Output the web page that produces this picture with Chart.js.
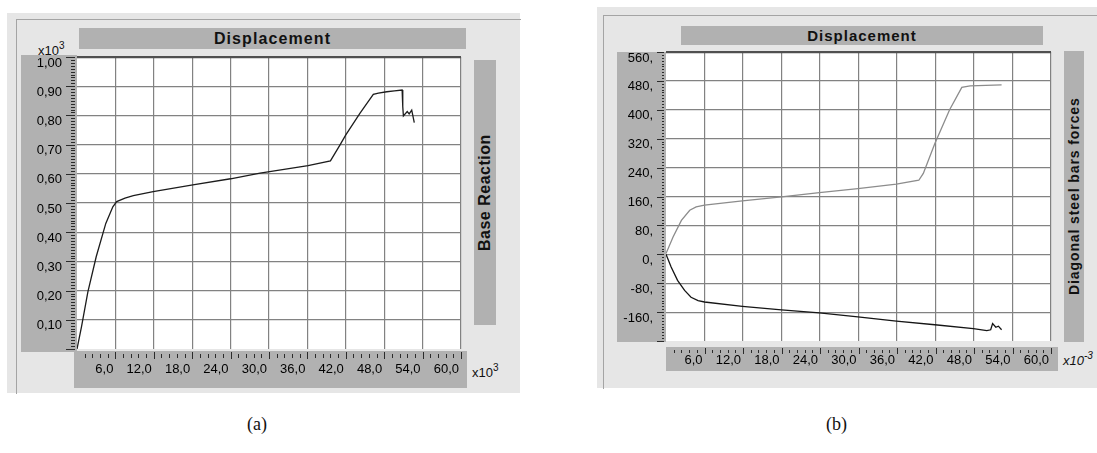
<!DOCTYPE html>
<html>
<head>
<meta charset="utf-8">
<script src="https://cdn.jsdelivr.net/npm/chart.js@4.4.1/dist/chart.umd.min.js"></script>
<style>
  body { margin: 0; background: #fff; }
  #page { position: relative; width: 1097px; height: 453px; overflow: hidden; font-family: "Liberation Sans", Arial, sans-serif; color: #111; }
  .abs { position: absolute; }
  .panel { background: #e6e6e6; }
  .frame { border-left: 1px solid #a4a4a4; border-top: 1px solid #a4a4a4; }
  .band { background: #b1b1b1; }
  .title { display: flex; align-items: center; justify-content: center; font-weight: bold; font-size: 16px; }
  .vtitle { display: flex; align-items: center; justify-content: center; font-weight: bold; font-size: 16px;
            writing-mode: vertical-rl; transform: rotate(180deg); }
  .mult { font-size: 13px; white-space: nowrap; }
  .mult sup { font-size: 10px; position: relative; top: -1px; }
  .cap { font-family: "Liberation Serif", "Times New Roman", serif; font-size: 18px; }
  .box { position: absolute; }
</style>
</head>
<body>
<div id="page">
  <!-- panel (a) -->
  <div class="abs panel" style="left:7px;top:13px;width:513px;height:380px"></div>
  <div class="abs frame" style="left:16px;top:19px;width:504px;height:374px"></div>
  <div class="abs band title" style="left:79px;top:28px;width:387px;height:21px;letter-spacing:1.1px">Displacement</div>
  <div class="abs band" style="left:21px;top:55px;width:56px;height:297px"></div>
  <div class="abs band" style="left:74px;top:351px;width:393px;height:37px"></div>
  <div class="abs band vtitle" style="left:474px;top:60px;width:22px;height:265px;letter-spacing:0.5px">Base Reaction</div>
  <div class="abs mult" style="left:38px;top:41px">x10<sup>3</sup></div>
  <div class="abs mult" style="left:472px;top:363px">x10<sup>3</sup></div>
  <div class="box" style="left:0;top:0;width:530px;height:400px"><canvas id="chartA"></canvas></div>

  <!-- panel (b) -->
  <div class="abs panel" style="left:597px;top:7px;width:500px;height:381px"></div>
  <div class="abs frame" style="left:603px;top:15px;width:494px;height:373px"></div>
  <div class="abs band title" style="left:681px;top:26px;width:362px;height:19px;font-size:15px;letter-spacing:1px">Displacement</div>
  <div class="abs band" style="left:617px;top:52px;width:49px;height:290px"></div>
  <div class="abs band" style="left:666px;top:347px;width:392px;height:24px"></div>
  <div class="abs band vtitle" style="left:1064px;top:51px;width:20px;height:291px;font-size:14px;letter-spacing:0.9px">Diagonal steel bars forces</div>
  <div class="abs mult" style="left:1063px;top:351px;font-style:italic">x10<sup>-3</sup></div>
  <div class="box" style="left:590px;top:0;width:507px;height:400px"><canvas id="chartB"></canvas></div>

  <div class="abs cap" style="left:247px;top:414px">(a)</div>
  <div class="abs cap" style="left:826px;top:414px">(b)</div>
</div>

<script>
// ---- data ----
// (a) displacement (x10^3) vs base reaction (x10^3)
const dispA  = [0, 0.7, 1.7, 3.0, 4.5, 5.6, 6.2, 7.5, 8.8, 11.9, 18.1, 24.0, 28.6, 36.1, 39.6, 41.1, 42.0, 44.2, 45.3, 46.3,
                47.1, 48.4, 49.6, 50.8, 50.9, 51.0, 51.6, 51.9, 52.3, 52.7];
const reactA = [0, 0.076, 0.196, 0.316, 0.43, 0.487, 0.505, 0.517, 0.525, 0.539, 0.562, 0.583, 0.602, 0.628, 0.644, 0.699, 0.733, 0.807, 0.841, 0.872,
                0.876, 0.881, 0.884, 0.887, 0.83, 0.798, 0.813, 0.805, 0.818, 0.775];

// (b) diagonal steel bar forces: upper (grey) and lower (black) bars
const dispB1  = [0, 1.1, 2.4, 3.7, 4.7, 6.0, 11.9, 18.0, 23.9, 29.9, 35.9, 39.4, 40.1, 41.9, 44.2, 46.1, 47.4, 52.3];
const forceB1 = [2, 48, 94, 122, 131, 136, 148, 159, 171, 182, 194, 205, 224, 307, 400, 462, 466, 469];
const dispB2  = [0, 0.8, 1.8, 2.9, 3.9, 5.0, 6.0, 11.9, 18.0, 23.9, 29.9, 35.9, 41.9, 47.9, 50.0, 50.6, 50.9, 51.4, 51.8, 52.3];
const forceB2 = [0, -35, -72, -100, -119, -128, -132, -144, -154, -162, -173, -185, -195, -206, -211, -209, -192, -202, -199, -209];

// axis ranges / tick steps
const xRange = [0, 60], xStep = 6;
const yRangeA = [0, 1.0], yStepA = 0.1;
const yRangeB = [-240, 560], yStepB = 80;

Chart.defaults.font.family = "'Liberation Sans', Arial, sans-serif";
Chart.defaults.font.size = 13;
Chart.defaults.color = "#000";

function pts(xs, ys) {
  return xs.map((x, i) => ({ x, y: ys[i] }));
}

// white plot area + major/minor tick marks drawn from the scales
const panelDecor = {
  id: "panelDecor",
  beforeDraw(chart) {
    const { ctx, chartArea: a } = chart;
    ctx.save();
    ctx.fillStyle = "#fff";
    ctx.fillRect(a.left, a.top, a.right - a.left, a.bottom - a.top);
    ctx.restore();
  },
  afterDraw(chart, args, o) {
    const { ctx, chartArea: a, scales: { x, y } } = chart;
    ctx.save();
    ctx.strokeStyle = "#2b2b2b";
    ctx.lineWidth = 1;
    ctx.beginPath();
    let n = Math.round((y.max - y.min) / o.yMinor);
    for (let i = 0; i <= n; i++) {
      const py = Math.round(y.getPixelForValue(y.min + i * o.yMinor)) + 0.5;
      const len = i % o.yPer === 0 ? o.yMaj : o.yMin;
      ctx.moveTo(a.left - len[0], py);
      ctx.lineTo(a.left - len[1], py);
    }
    n = Math.round((x.max - x.min) / o.xMinor);
    for (let i = 1; i <= n; i++) {
      const px = Math.round(x.getPixelForValue(x.min + i * o.xMinor)) + 0.5;
      const len = i % o.xPer === 0 ? o.xMaj : o.xMin;
      ctx.moveTo(px, a.bottom + len[0]);
      ctx.lineTo(px, a.bottom + len[1]);
    }
    ctx.stroke();
    ctx.restore();
  }
};

function gridColor(isY) {
  return ctx => {
    const s = ctx.scale;
    if (ctx.tick.value === s.min) return "rgba(0,0,0,0)";
    if (isY && ctx.tick.value === s.max) return "#505050";
    return "#828282";
  };
}

function makeChart(id, datasets, yRange, yStep, yFmt, o) {
  return new Chart(document.getElementById(id), {
    type: "scatter",
    data: { datasets },
    options: {
      responsive: true,
      maintainAspectRatio: false,
      animation: false,
      layout: { padding: o.padding },
      plugins: { legend: { display: false }, tooltip: { enabled: false }, panelDecor: o.decor },
      scales: {
        x: {
          type: "linear", min: xRange[0], max: xRange[1],
          afterFit: s => { s.height = o.xHeight; },
          border: { display: false },
          grid: { color: gridColor(false), lineWidth: 1.2, drawTicks: false },
          ticks: {
            stepSize: xStep, autoSkip: false, maxRotation: 0, align: "end",
            labelOffset: -2, padding: o.xPad,
            callback: v => v === xRange[0] ? "" : v.toFixed(1).replace(".", ",")
          }
        },
        y: {
          type: "linear", min: yRange[0], max: yRange[1],
          afterFit: s => { s.width = o.yWidth; },
          border: { display: false },
          grid: {
            color: gridColor(true), drawTicks: false,
            lineWidth: ctx => ctx.tick.value === ctx.scale.max ? 2.2 : 1.2
          },
          ticks: {
            stepSize: yStep, autoSkip: false, labelOffset: 6, padding: o.yPad,
            callback: v => v === yRange[0] ? "" : yFmt(v)
          }
        }
      }
    },
    plugins: [panelDecor]
  });
}

makeChart("chartA",
  [{ data: pts(dispA, reactA), showLine: true, borderColor: "#1c1c1c", borderWidth: 1.3, pointRadius: 0 }],
  yRangeA, yStepA, v => v.toFixed(2).replace(".", ","),
  {
    padding: { left: 0, top: 57, right: 69, bottom: 11 },
    xHeight: 40, yWidth: 77, xPad: 13, yPad: 15,
    decor: { yMinor: 0.01, yPer: 10, yMaj: [11, 2], yMin: [6, 2], xMinor: 1.2, xPer: 5, xMaj: [3, 10], xMin: [5, 9] }
  });

makeChart("chartB",
  [
    { data: pts(dispB1, forceB1), showLine: true, borderColor: "#8c8c8c", borderWidth: 1.3, pointRadius: 0 },
    { data: pts(dispB2, forceB2), showLine: true, borderColor: "#151515", borderWidth: 1.3, pointRadius: 0 }
  ],
  yRangeB, yStepB, v => v + ",",
  {
    padding: { left: 0, top: 52, right: 46, bottom: 19 },
    xHeight: 40, yWidth: 76, xPad: 12, yPad: 13,
    decor: { yMinor: 8, yPer: 10, yMaj: [9, 2], yMin: [4, 2], xMinor: 1.2, xPer: 5, xMaj: [7, 13], xMin: [9, 12] }
  });
</script>
</body>
</html>
